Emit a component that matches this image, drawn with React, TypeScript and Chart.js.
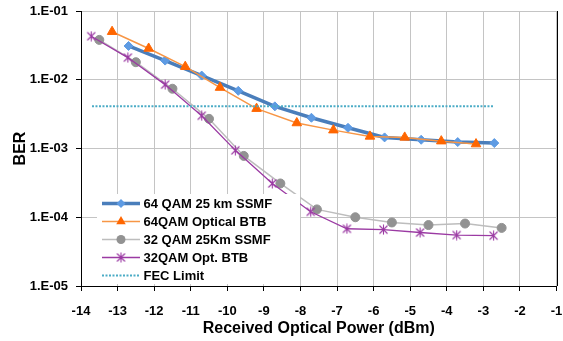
import React, { useEffect, useRef } from 'react';
import { Chart, registerables } from 'chart.js';

Chart.register(...registerables);

const seriesNames = ['64 QAM 25 km SSMF', '64QAM Optical BTB', '32 QAM 25Km SSMF', '32QAM Opt. BTB', 'FEC Limit'];

const qam64SsmfX = [-12.7, -11.7, -10.7, -9.7, -8.7, -7.7, -6.7, -5.7, -4.7, -3.7, -2.7];
const qam64SsmfBer = [3.1e-2, 1.9e-2, 1.15e-2, 6.9e-3, 4.1e-3, 2.8e-3, 2.0e-3, 1.45e-3, 1.34e-3, 1.24e-3, 1.2e-3];

const qam64BtbX = [-13.15, -12.15, -11.15, -10.2, -9.2, -8.1, -7.1, -6.1, -5.15, -4.15, -3.2];
const qam64BtbBer = [5.0e-2, 2.85e-2, 1.55e-2, 7.7e-3, 3.8e-3, 2.35e-3, 1.85e-3, 1.5e-3, 1.45e-3, 1.28e-3, 1.16e-3];

const qam32SsmfX = [-13.5, -12.5, -11.5, -10.5, -9.55, -8.55, -7.55, -6.5, -5.5, -4.5, -3.5, -2.5];
const qam32SsmfBer = [3.8e-2, 1.8e-2, 7.4e-3, 2.7e-3, 7.8e-4, 3.1e-4, 1.3e-4, 1.0e-4, 8.4e-5, 7.7e-5, 8.1e-5, 7.0e-5];

const qam32BtbX = [-13.72, -12.72, -11.7, -10.7, -9.78, -8.77, -7.72, -6.73, -5.73, -4.73, -3.73, -2.72];
const qam32BtbBer = [4.3e-2, 2.1e-2, 8.5e-3, 3.0e-3, 9.4e-4, 3.1e-4, 1.2e-4, 6.8e-5, 6.6e-5, 6.0e-5, 5.5e-5, 5.4e-5];

const fecX = [-13.7, -2.7];
const fecBer = [4.1e-3, 4.1e-3];

const yTicks = [1e-5, 1e-4, 1e-3, 1e-2, 1e-1];
const yTickLabels = ['1.E-05', '1.E-04', '1.E-03', '1.E-02', '1.E-01'];

const xTitle = 'Received Optical Power (dBm)';
const yTitle = 'BER';

const FONT = '"Liberation Sans", Arial, sans-serif';

const toPoints = (xs: number[], ys: number[]) => xs.map((x, i) => ({ x, y: ys[i] }));

function makeStar(color: string) {
  const c = document.createElement('canvas');
  c.width = 11;
  c.height = 11;
  const g = c.getContext('2d')!;
  g.strokeStyle = color;
  g.lineWidth = 1.1;
  g.beginPath();
  g.moveTo(1.5, 1.5); g.lineTo(9.5, 9.5);
  g.moveTo(9.5, 1.5); g.lineTo(1.5, 9.5);
  g.moveTo(5.5, 0.5); g.lineTo(5.5, 10.5);
  g.stroke();
  return c;
}

export default function App() {
  const ref = useRef<HTMLCanvasElement | null>(null);

  useEffect(() => {
    if (!ref.current) return;
    const star = makeStar('#9B3AA3');

    const legendPlugin = {
      id: 'boxLegend',
      afterDraw(chart: any) {
        const ctx = chart.ctx;
        const area = chart.chartArea;
        ctx.save();
        // right border
        ctx.strokeStyle = '#000';
        ctx.lineWidth = 1;
        ctx.beginPath();
        ctx.moveTo(Math.round(area.right) + 0.5, area.top);
        ctx.lineTo(Math.round(area.right) + 0.5, area.bottom);
        ctx.stroke();

        // legend box
        const bx = 97, by = 194, bw = 203, bh = 90;
        ctx.fillStyle = '#fff';
        ctx.fillRect(bx, by, bw, bh);
        const x0 = 102, x1 = 140, xm = 121, tx = 143.5;
        chart.data.datasets.forEach((ds: any, i: number) => {
          const y = 203.5 + i * 18;
          ctx.save();
          ctx.strokeStyle = ds.borderColor;
          ctx.lineWidth = ds.borderWidth;
          ctx.setLineDash(ds.borderDash || []);
          ctx.beginPath();
          ctx.moveTo(x0, y);
          ctx.lineTo(x1, y);
          ctx.stroke();
          ctx.restore();
          const r = ds.pointRadius;
          ctx.fillStyle = ds.pointBackgroundColor;
          if (ds.pointStyle === 'rectRot') {
            ctx.beginPath();
            ctx.moveTo(xm, y - r); ctx.lineTo(xm + r, y); ctx.lineTo(xm, y + r); ctx.lineTo(xm - r, y);
            ctx.closePath(); ctx.fill();
          } else if (ds.pointStyle === 'triangle') {
            ctx.beginPath();
            ctx.moveTo(xm, y - r);
            ctx.lineTo(xm + r * 0.866, y + r * 0.5);
            ctx.lineTo(xm - r * 0.866, y + r * 0.5);
            ctx.closePath(); ctx.fill();
          } else if (ds.pointStyle === 'circle' && r > 0) {
            ctx.beginPath(); ctx.arc(xm, y, r, 0, Math.PI * 2); ctx.fill();
          } else if (ds.pointStyle instanceof HTMLCanvasElement) {
            ctx.drawImage(ds.pointStyle, xm - 5.5, y - 5.5);
          }
          ctx.fillStyle = '#000';
          ctx.font = `bold 13px ${FONT}`;
          ctx.textBaseline = 'middle';
          ctx.textAlign = 'left';
          ctx.fillText(ds.label, tx, y + 0.5);
        });
        ctx.restore();
      },
    };

    const chart = new Chart(ref.current, {
      type: 'line',
      data: {
        datasets: [
          {
            label: seriesNames[0],
            data: toPoints(qam64SsmfX, qam64SsmfBer),
            borderColor: '#4A7EBB',
            borderWidth: 3.5,
            pointStyle: 'rectRot',
            pointRadius: 4.5,
            pointBackgroundColor: '#5E9BE3',
            pointBorderColor: '#5E9BE3',
            pointBorderWidth: 1,
            order: 4,
          },
          {
            label: seriesNames[1],
            data: toPoints(qam64BtbX, qam64BtbBer),
            borderColor: '#F79646',
            borderWidth: 1.5,
            pointStyle: 'triangle',
            pointRadius: 5.5,
            pointBackgroundColor: '#FF6600',
            pointBorderColor: '#FF6600',
            pointBorderWidth: 1,
            order: 3,
          },
          {
            label: seriesNames[2],
            data: toPoints(qam32SsmfX, qam32SsmfBer),
            borderColor: '#BDBDBD',
            borderWidth: 1.5,
            pointStyle: 'circle',
            pointRadius: 4.5,
            pointBackgroundColor: '#929292',
            pointBorderColor: '#929292',
            pointBorderWidth: 1,
            order: 2,
          },
          {
            label: seriesNames[3],
            data: toPoints(qam32BtbX, qam32BtbBer),
            borderColor: '#9B3AA3',
            borderWidth: 1.3,
            pointStyle: star as any,
            pointRadius: 5,
            pointBackgroundColor: '#9B3AA3',
            pointBorderColor: '#9B3AA3',
            order: 1,
          },
          {
            label: seriesNames[4],
            data: toPoints(fecX, fecBer),
            borderColor: '#4BACC6',
            borderWidth: 2,
            borderDash: [2, 1.5],
            pointStyle: 'circle',
            pointRadius: 0,
            pointBackgroundColor: '#4BACC6',
            order: 0,
          },
        ] as any,
      },
      options: {
        animation: false,
        responsive: false,
        devicePixelRatio: 1,
        layout: { padding: { left: 0, right: 5, top: 11, bottom: 0 } },
        plugins: { legend: { display: false }, tooltip: { enabled: false } },
        elements: { line: { tension: 0 } },
        scales: {
          x: {
            type: 'linear',
            min: -14,
            max: -1,
            ticks: {
              stepSize: 1,
              color: '#000',
              font: { family: FONT, size: 13, weight: 'bold' },
              padding: 13,
              maxRotation: 0,
            },
            grid: { color: '#C4C4C4', lineWidth: 1, tickLength: 5, tickColor: '#000' },
            border: { color: '#000', width: 1 },
            title: {
              display: true,
              text: xTitle,
              color: '#000',
              font: { family: FONT, size: 16, weight: 'bold' },
              padding: { top: 0, bottom: 3 },
            },
            afterFit(scale: any) {
              scale.height = 55;
              scale.paddingLeft = 0;
              scale.paddingRight = 0;
            },
          },
          y: {
            type: 'logarithmic',
            min: 1e-5,
            max: 1e-1,
            afterBuildTicks(scale: any) {
              scale.ticks = yTicks.map((v) => ({ value: v }));
            },
            ticks: {
              color: '#000',
              font: { family: FONT, size: 13, weight: 'bold' },
              padding: 8,
              callback: (v: any) => {
                const i = yTicks.findIndex((t) => Math.abs(Math.log10(t) - Math.log10(Number(v))) < 1e-6);
                return i >= 0 ? yTickLabels[i] : '';
              },
            },
            grid: { color: '#C4C4C4', lineWidth: 1, tickLength: 5, tickColor: '#000' },
            border: { color: '#000', width: 1 },
            title: {
              display: true,
              text: yTitle,
              color: '#000',
              font: { family: FONT, size: 16, weight: 'bold' },
              padding: { top: 11, bottom: 0 },
            },
            afterFit(scale: any) {
              scale.width = 81;
              scale.paddingTop = 0;
              scale.paddingBottom = 0;
            },
          },
        },
      } as any,
      plugins: [legendPlugin],
    });

    return () => chart.destroy();
  }, []);

  return (
    <div style={{ position: 'absolute', left: 0, top: 0, width: 563, height: 341, background: '#fff' }}>
      <canvas ref={ref} width={563} height={341} style={{ display: 'block' }} />
    </div>
  );
}
